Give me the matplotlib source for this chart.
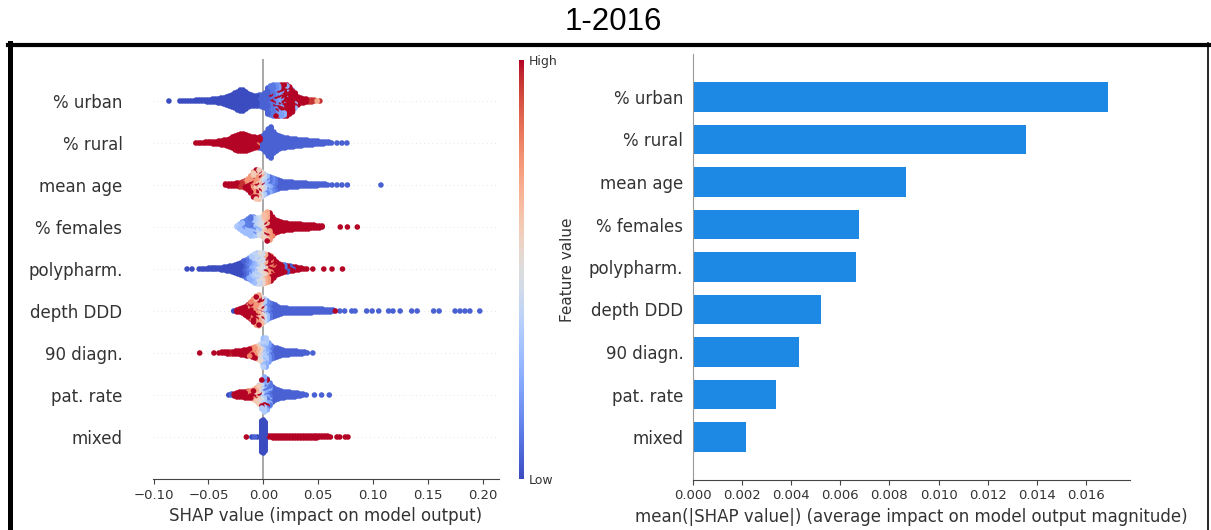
import matplotlib
matplotlib.use("Agg")
import matplotlib.pyplot as plt
from matplotlib.lines import Line2D
from matplotlib.cm import ScalarMappable
from matplotlib.colors import Normalize

features = ["% urban", "% rural", "mean age", "% females", "polypharm.",
            "depth DDD", "90 diagn.", "pat. rate", "mixed"]
mean_abs_shap = [0.0169, 0.01355, 0.00866, 0.00675, 0.00662,
                 0.0052, 0.0043, 0.0034, 0.00214]

# beeswarm: (SHAP value, dots stacked there, feature value 0=low 1=high)
urban = [
    (-0.086, 1, 0.0), (-0.076, 1, 0.0), (-0.0735, 1, 0.0), (-0.071, 1, 0.0), (-0.0685, 1, 0.0),
    (-0.066, 1, 0.0), (-0.0635, 1, 0.0), (-0.061, 2, 0.0), (-0.0585, 2, 0.0), (-0.056, 2, 0.0),
    (-0.0535, 2, 0.0), (-0.051, 3, 0.0), (-0.0485, 3, 0.0), (-0.046, 4, 0.0), (-0.0435, 4, 0.0),
    (-0.041, 5, 0.0), (-0.0385, 6, 0.0), (-0.036, 7, 0.0), (-0.0335, 9, 0.0), (-0.031, 11, 0.0),
    (-0.0285, 13, 0.0), (-0.026, 16, 0.0), (-0.0235, 19, 0.0), (-0.021, 22, 0.0), (-0.0185, 22, 0.0),
    (-0.016, 18, 0.0), (-0.0135, 14, 0.0), (-0.011, 12, 0.0), (-0.0085, 11, 0.0), (-0.006, 11, 0.0),
    (-0.0035, 12, 0.05), (-0.001, 13, 0.05), (0.0015, 16, 0.05),
    (0.004, 26, 0.05), (0.004, 1, 1.0), (0.0065, 27, 0.1), (0.0065, 3, 1.0),
    (0.009, 28, 0.1), (0.009, 4, 1.0), (0.0115, 26, 0.15), (0.0115, 6, 1.0),
    (0.014, 22, 0.2), (0.014, 10, 1.0), (0.0165, 14, 0.2), (0.0165, 18, 1.0),
    (0.019, 8, 0.25), (0.019, 24, 1.0), (0.0215, 6, 0.25), (0.0215, 26, 1.0),
    (0.024, 4, 0.3), (0.024, 24, 1.0), (0.0265, 3, 0.3), (0.0265, 20, 1.0),
    (0.029, 2, 0.3), (0.029, 14, 1.0), (0.0315, 9, 1.0), (0.034, 6, 1.0), (0.0365, 5, 1.0),
    (0.039, 4, 1.0), (0.0415, 3, 0.95), (0.044, 3, 0.95), (0.0465, 2, 0.9), (0.049, 1, 0.7),
    (0.0515, 1, 0.95),
]
rural = [
    (-0.0615, 1, 1.0), (-0.059, 1, 1.0), (-0.057, 1, 1.0), (-0.0545, 1, 1.0), (-0.0525, 2, 1.0),
    (-0.05, 2, 1.0), (-0.048, 2, 1.0), (-0.0455, 3, 1.0),
    (-0.043, 3, 1.0), (-0.0405, 4, 1.0), (-0.038, 5, 1.0), (-0.0355, 6, 1.0), (-0.033, 7, 1.0),
    (-0.0305, 9, 1.0), (-0.028, 12, 1.0), (-0.0255, 15, 1.0), (-0.023, 17, 1.0), (-0.0205, 18, 1.0),
    (-0.018, 18, 1.0), (-0.0155, 17, 1.0), (-0.013, 15, 1.0), (-0.0105, 13, 1.0),
    (-0.008, 10, 1.0), (-0.008, 2, 0.85), (-0.0055, 9, 1.0), (-0.0055, 2, 0.8),
    (-0.003, 6, 0.05), (-0.003, 6, 1.0), (-0.0005, 14, 0.05), (0.002, 20, 0.05), (0.0045, 28, 0.05),
    (0.007, 32, 0.05), (0.0095, 22, 0.05), (0.012, 17, 0.05), (0.0145, 14, 0.05), (0.017, 12, 0.05),
    (0.0195, 11, 0.05), (0.022, 10, 0.05), (0.0245, 9, 0.05), (0.027, 9, 0.05), (0.0295, 8, 0.05),
    (0.032, 7, 0.05), (0.0345, 7, 0.05), (0.037, 6, 0.05), (0.0395, 6, 0.05), (0.042, 5, 0.05),
    (0.0445, 5, 0.05), (0.047, 4, 0.05), (0.0495, 4, 0.05), (0.052, 3, 0.05), (0.0545, 3, 0.05),
    (0.057, 2, 0.05), (0.0595, 2, 0.05), (0.062, 1, 0.05), (0.067, 1, 0.05), (0.0715, 1, 0.05),
    (0.076, 1, 0.05),
]
mean_age = [
    (-0.0345, 2, 1.0), (-0.0315, 3, 1.0), (-0.029, 3, 1.0), (-0.0265, 3, 1.0), (-0.024, 4, 1.0),
    (-0.0215, 5, 0.95), (-0.019, 6, 0.95), (-0.0165, 6, 1.0), (-0.0165, 2, 0.75),
    (-0.014, 6, 1.0), (-0.014, 6, 0.75), (-0.0115, 8, 1.0), (-0.0115, 10, 0.75),
    (-0.009, 8, 1.0), (-0.009, 12, 0.75), (-0.009, 6, 0.6),
    (-0.0065, 6, 1.0), (-0.0065, 14, 0.75), (-0.0065, 10, 0.62),
    (-0.004, 4, 1.0), (-0.004, 12, 0.72), (-0.004, 14, 0.58),
    (-0.0015, 10, 0.55), (-0.0015, 8, 0.45), (-0.0015, 4, 0.7), (-0.0015, 4, 1.0),
    (0.001, 12, 0.42), (0.001, 10, 0.35), (0.0035, 12, 0.3), (0.0035, 6, 0.15),
    (0.006, 8, 0.25), (0.006, 8, 0.1), (0.0085, 14, 0.15), (0.011, 12, 0.1), (0.0135, 10, 0.05),
    (0.016, 8, 0.05), (0.0185, 7, 0.05), (0.021, 7, 0.05), (0.0235, 6, 0.05), (0.026, 6, 0.05),
    (0.0285, 5, 0.05), (0.031, 5, 0.05), (0.0335, 4, 0.05), (0.036, 4, 0.05), (0.0385, 4, 0.05),
    (0.041, 3, 0.05), (0.0435, 3, 0.05), (0.046, 3, 0.05), (0.0485, 3, 0.05), (0.051, 2, 0.05),
    (0.0535, 2, 0.05), (0.056, 2, 0.05), (0.0585, 1, 0.05), (0.0625, 1, 0.05), (0.067, 1, 0.05),
    (0.0715, 1, 0.05), (0.0765, 1, 0.05), (0.107, 1, 0.05),
]
females = [
    (-0.024, 2, 0.35), (-0.0215, 6, 0.3), (-0.019, 6, 0.3), (-0.019, 4, 0.15),
    (-0.0165, 7, 0.3), (-0.0165, 6, 0.12), (-0.014, 8, 0.3), (-0.014, 8, 0.12),
    (-0.0115, 10, 0.3), (-0.0115, 10, 0.1), (-0.009, 12, 0.35), (-0.009, 8, 0.15),
    (-0.0065, 12, 0.4), (-0.0065, 6, 0.25), (-0.004, 14, 0.45), (-0.004, 4, 0.3),
    (-0.0015, 12, 0.5), (-0.0015, 8, 0.6), (0.001, 14, 0.65), (0.001, 8, 0.55), (0.001, 4, 1.0),
    (0.0035, 16, 0.7), (0.0035, 8, 0.6), (0.0035, 6, 1.0), (0.006, 14, 0.75), (0.006, 14, 1.0),
    (0.0085, 6, 0.8), (0.0085, 14, 1.0), (0.011, 14, 1.0), (0.0135, 12, 1.0), (0.016, 10, 1.0),
    (0.0185, 9, 1.0), (0.021, 8, 1.0), (0.0235, 7, 1.0), (0.026, 7, 1.0), (0.0285, 6, 1.0),
    (0.031, 6, 1.0), (0.0335, 6, 1.0), (0.036, 5, 1.0), (0.0385, 5, 1.0), (0.041, 5, 1.0),
    (0.0435, 4, 1.0), (0.046, 4, 1.0), (0.0485, 3, 1.0), (0.051, 3, 1.0), (0.0535, 2, 1.0),
    (0.07, 1, 1.0), (0.0765, 1, 1.0), (0.0855, 1, 1.0),
]
polypharm = [
    (-0.0695, 1, 0.0), (-0.065, 1, 0.0), (-0.0585, 1, 0.0), (-0.056, 1, 0.0), (-0.054, 1, 0.0),
    (-0.0515, 1, 0.0), (-0.0495, 2, 0.0), (-0.047, 2, 0.0), (-0.045, 2, 0.0), (-0.043, 2, 0.0),
    (-0.0405, 2, 0.0), (-0.038, 3, 0.0), (-0.0355, 4, 0.0), (-0.033, 5, 0.0),
    (-0.0305, 6, 0.0), (-0.028, 7, 0.0), (-0.0255, 9, 0.0), (-0.023, 11, 0.0), (-0.0205, 13, 0.0),
    (-0.018, 16, 0.05), (-0.0155, 19, 0.1), (-0.013, 12, 0.15), (-0.013, 10, 0.25),
    (-0.0105, 12, 0.25), (-0.0105, 14, 0.35), (-0.008, 16, 0.4), (-0.008, 14, 0.3),
    (-0.0055, 20, 0.45), (-0.0055, 12, 0.35), (-0.003, 20, 0.5), (-0.003, 12, 0.42),
    (-0.0005, 16, 0.55), (-0.0005, 16, 0.45), (0.002, 16, 0.7), (0.002, 8, 0.6), (0.002, 6, 1.0),
    (0.0045, 14, 0.75), (0.0045, 14, 1.0), (0.007, 10, 0.8), (0.007, 16, 1.0),
    (0.0095, 16, 1.0), (0.0095, 4, 0.85), (0.012, 14, 1.0), (0.0145, 11, 1.0),
    (0.017, 6, 1.0), (0.017, 3, 0.05), (0.0195, 4, 1.0), (0.0195, 4, 0.1),
    (0.022, 3, 1.0), (0.022, 4, 0.05), (0.0245, 3, 1.0), (0.0245, 3, 0.05),
    (0.027, 3, 1.0), (0.027, 2, 0.05), (0.0295, 4, 1.0), (0.032, 3, 1.0), (0.0345, 2, 1.0),
    (0.037, 1, 1.0), (0.0395, 1, 1.0), (0.045, 1, 1.0), (0.055, 1, 1.0), (0.0625, 1, 1.0),
    (0.072, 1, 1.0),
]
depth_ddd = [
    (-0.027, 1, 0.0), (-0.024, 3, 1.0), (-0.0215, 4, 1.0), (-0.019, 6, 1.0), (-0.0165, 9, 1.0),
    (-0.014, 11, 1.0), (-0.014, 2, 0.8), (-0.0115, 12, 1.0), (-0.0115, 6, 0.8),
    (-0.009, 12, 1.0), (-0.009, 12, 0.75), (-0.0065, 10, 1.0), (-0.0065, 14, 0.75), (-0.0065, 6, 0.65),
    (-0.004, 8, 1.0), (-0.004, 14, 0.72), (-0.004, 10, 0.62),
    (-0.0015, 4, 1.0), (-0.0015, 12, 0.65), (-0.0015, 12, 0.5),
    (0.001, 12, 0.45), (0.001, 12, 0.35), (0.0035, 10, 0.3), (0.0035, 10, 0.15),
    (0.006, 16, 0.1), (0.0085, 14, 0.05), (0.011, 12, 0.05), (0.0135, 9, 0.05), (0.016, 7, 0.05),
    (0.0185, 6, 0.05), (0.021, 6, 0.05), (0.0235, 5, 0.05), (0.026, 5, 0.05), (0.0285, 5, 0.05),
    (0.031, 5, 0.05), (0.0335, 5, 0.05), (0.036, 5, 0.05), (0.0385, 5, 0.05), (0.041, 5, 0.05),
    (0.0435, 5, 0.05), (0.046, 4, 0.05), (0.0485, 4, 0.05), (0.051, 4, 0.05), (0.0535, 4, 0.05),
    (0.056, 3, 0.05), (0.0585, 3, 0.05), (0.061, 3, 0.05), (0.0635, 2, 0.05), (0.0655, 1, 1.0),
    (0.0695, 1, 0.05), (0.074, 1, 0.05), (0.0805, 1, 0.05), (0.0835, 1, 0.05), (0.094, 1, 0.05),
    (0.099, 1, 0.05), (0.105, 1, 0.05), (0.114, 1, 0.05), (0.118, 1, 0.05), (0.1245, 1, 0.05),
    (0.135, 1, 0.05), (0.14, 1, 0.05), (0.155, 1, 0.05), (0.16, 1, 0.05), (0.1745, 1, 0.05),
    (0.179, 1, 0.05), (0.1835, 1, 0.05), (0.188, 1, 0.05), (0.197, 1, 0.05),
]
diagn_90 = [
    (-0.058, 1, 1.0), (-0.045, 1, 1.0), (-0.0405, 1, 1.0), (-0.0375, 2, 1.0), (-0.035, 2, 1.0),
    (-0.0325, 3, 1.0), (-0.03, 3, 0.95), (-0.0275, 3, 1.0), (-0.025, 4, 1.0), (-0.0225, 4, 1.0),
    (-0.02, 5, 1.0), (-0.0175, 6, 1.0), (-0.015, 5, 1.0), (-0.015, 2, 0.8),
    (-0.0125, 5, 1.0), (-0.0125, 3, 0.8), (-0.01, 5, 1.0), (-0.01, 5, 0.8),
    (-0.0075, 4, 1.0), (-0.0075, 8, 0.75), (-0.005, 6, 0.7), (-0.005, 6, 0.6), (-0.005, 2, 1.0),
    (-0.0025, 10, 0.55), (-0.0025, 8, 0.45), (0.0, 18, 0.38), (0.0, 12, 0.3),
    (0.0025, 14, 0.35), (0.0025, 16, 0.25), (0.005, 20, 0.2), (0.0075, 14, 0.1), (0.01, 11, 0.05),
    (0.0125, 10, 0.05), (0.015, 8, 0.05), (0.0175, 6, 0.05), (0.02, 5, 0.05), (0.0225, 5, 0.05),
    (0.025, 4, 0.05), (0.0275, 4, 0.05), (0.03, 4, 0.05), (0.0325, 3, 0.05), (0.035, 3, 0.05),
    (0.0375, 2, 0.05), (0.04, 1, 0.05), (0.045, 1, 0.05),
]
pat_rate = [
    (-0.0315, 1, 0.0), (-0.029, 2, 0.05), (-0.0265, 3, 1.0), (-0.024, 5, 1.0), (-0.0215, 5, 1.0),
    (-0.0215, 1, 0.1), (-0.019, 6, 1.0), (-0.0165, 7, 1.0), (-0.014, 4, 1.0), (-0.014, 4, 0.8),
    (-0.0115, 4, 1.0), (-0.0115, 4, 0.8), (-0.009, 3, 1.0), (-0.009, 7, 0.75),
    (-0.0065, 8, 0.7), (-0.0065, 4, 0.6), (-0.0065, 2, 1.0),
    (-0.004, 10, 0.6), (-0.004, 8, 0.45), (-0.004, 2, 1.0),
    (-0.0015, 12, 0.45), (-0.0015, 12, 0.35), (-0.0015, 4, 1.0), (-0.0015, 2, 0.15),
    (0.001, 14, 0.35), (0.001, 14, 0.25), (0.001, 4, 1.0), (0.001, 4, 0.1),
    (0.0035, 14, 0.25), (0.0035, 14, 0.1), (0.0035, 4, 1.0), (0.006, 16, 0.1), (0.006, 8, 0.25),
    (0.0085, 16, 0.05), (0.011, 12, 0.05), (0.0135, 10, 0.05), (0.016, 8, 0.05), (0.0185, 7, 0.05),
    (0.021, 6, 0.05), (0.0235, 6, 0.05), (0.026, 5, 0.05), (0.0285, 5, 0.05), (0.031, 4, 0.05),
    (0.0335, 3, 0.05), (0.036, 2, 0.05), (0.039, 1, 0.05), (0.0465, 1, 0.05), (0.053, 1, 0.05),
    (0.06, 1, 0.05),
]
mixed = [
    (-0.0155, 1, 1.0), (-0.0105, 1, 0.0), (-0.008, 1, 0.05), (-0.0055, 1, 0.0),
    (-0.0015, 32, 0.0), (0.0, 34, 0.0), (0.0015, 30, 0.0),
    (0.004, 2, 1.0), (0.0065, 2, 1.0), (0.009, 3, 1.0), (0.0115, 3, 1.0), (0.014, 3, 1.0),
    (0.0165, 3, 1.0), (0.019, 3, 1.0), (0.0215, 3, 1.0), (0.024, 3, 1.0), (0.0265, 3, 1.0),
    (0.029, 3, 1.0), (0.0315, 3, 1.0), (0.034, 3, 1.0), (0.0365, 3, 1.0), (0.039, 3, 1.0),
    (0.0415, 3, 1.0), (0.044, 3, 1.0), (0.0465, 3, 1.0), (0.0485, 3, 1.0), (0.051, 2, 1.0),
    (0.0535, 2, 1.0), (0.056, 2, 1.0), (0.0585, 2, 1.0), (0.061, 1, 1.0), (0.067, 1, 1.0),
    (0.0695, 1, 1.0), (0.0745, 1, 1.0), (0.077, 1, 1.0),
]
swarms = [urban, rural, mean_age, females, polypharm, depth_ddd, diagn_90, pat_rate, mixed]

W, H = 1211, 530
fig = plt.figure(figsize=(W / 100, H / 100), dpi=100)
txt = "#333333"


def swarm_points(entries, row, dy):
    # stack dots of the same SHAP value outward from the row, mixing colours through the stack
    groups = {}
    for x, n, c in entries:
        groups.setdefault(x, []).append((n, c))
    pts = []
    for k, (x, parts) in enumerate(groups.items()):
        phase = ((k * 7) % 5) / 5.0
        stack = []
        for n, c in parts:
            stack += [(((j + 0.5) / n + phase) % 1.0, c) for j in range(n)]
        stack.sort(key=lambda t: t[0])
        for i, (_, c) in enumerate(stack):
            layer = (i + 1) // 2
            sign = 1 if i % 2 else -1
            # draw order mixes layers a little so overlapping dots look blotchy
            order = ((i * 5 + k * 3) % 7) + layer * 0.5
            pts.append((order, x, row + sign * layer * dy, c))
    pts.sort(key=lambda p: p[0])
    return [p[1] for p in pts], [p[2] for p in pts], [p[3] for p in pts]


# ---- left: beeswarm ----
ax1 = fig.add_axes([153 / W, 51 / H, 346 / W, 420 / H])
n = len(features)
for i, entries in enumerate(swarms):
    row = n - 1 - i
    ax1.axhline(row, color="#cccccc", lw=0.5, dashes=(1, 5), zorder=-1)
    xs, ys, cs = swarm_points(entries, row, 1 / 42)
    ax1.scatter(xs, ys, c=cs, cmap="coolwarm", vmin=0, vmax=1, s=16,
                linewidths=0, zorder=3)
ax1.axvline(0, color="#999999", lw=1.2, zorder=-1)
ax1.set_xlim(-0.1005, 0.2145)
ax1.set_ylim(-1, n)
ax1.set_yticks(range(n))
ax1.set_yticklabels(features[::-1], fontsize=12, color=txt)
ax1.tick_params(axis="y", length=0, pad=22)
ax1.set_xticks([-0.1, -0.05, 0, 0.05, 0.1, 0.15, 0.2])
ax1.tick_params(axis="x", labelsize=9.5, labelcolor=txt, color="#444444")
ax1.set_xlabel("SHAP value (impact on model output)", fontsize=12, color=txt)
for s in ["left", "right", "top"]:
    ax1.spines[s].set_visible(False)
ax1.spines["bottom"].set_color("#444444")

cax = fig.add_axes([519 / W, 51 / H, 5 / W, 419 / H])
cb = fig.colorbar(ScalarMappable(norm=Normalize(0, 1), cmap="coolwarm"), cax=cax, ticks=[0, 1])
cb.set_ticklabels(["Low", "High"])
cb.ax.tick_params(labelsize=9, length=0, labelcolor=txt)
cb.outline.set_visible(False)
fig.text(568 / W, 1 - 270 / H, "Feature value", rotation=90, fontsize=11,
         ha="center", va="center", color=txt)

# ---- right: mean |SHAP| bars ----
ax2 = fig.add_axes([693 / W, 50.5 / H, 437 / W, 425 / H])
ax2.barh(range(n), mean_abs_shap[::-1], 0.7, align="center", color="#1E88E5")
ax2.set_xlim(0, 0.0178)
ax2.set_ylim(-1, n)
ax2.set_yticks(range(n))
ax2.set_yticklabels(features[::-1], fontsize=12, color=txt)
ax2.tick_params(axis="y", length=0, pad=7)
ax2.set_xticks([0.002 * k for k in range(9)])
ax2.tick_params(axis="x", labelsize=9.5, labelcolor=txt, color="#444444")
ax2.set_xlabel("mean(|SHAP value|) (average impact on model output magnitude)",
               fontsize=12, color=txt)
for s in ["right", "top"]:
    ax2.spines[s].set_visible(False)
ax2.spines["bottom"].set_color("#444444")
ax2.spines["left"].set_color("#999999")

# title and frame
fig.text(613 / W, 1 - 22 / H, "1-2016", fontsize=22.5, family="Liberation Sans",
         ha="center", va="center")
fig.add_artist(Line2D([8 / W, 1209 / W], [1 - 44.5 / H, 1 - 44.5 / H],
                      transform=fig.transFigure, color="black", lw=3))
fig.add_artist(Line2D([9.5 / W, 9.5 / W], [0, 1 - 43 / H],
                      transform=fig.transFigure, color="black", lw=3.6))
fig.add_artist(Line2D([1208 / W, 1208 / W], [0, 1 - 43 / H],
                      transform=fig.transFigure, color="black", lw=1.2))

fig.savefig("out.png", dpi=100)
plt.close(fig)
